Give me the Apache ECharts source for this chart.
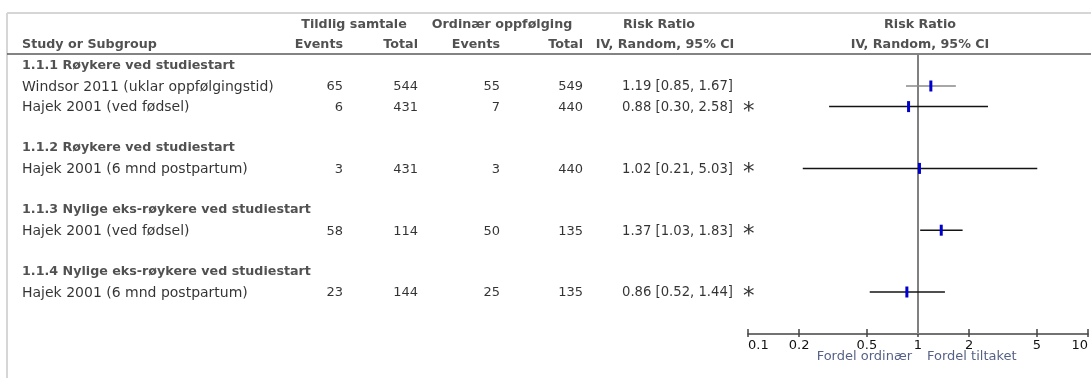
<!DOCTYPE html>
<html><head><meta charset="utf-8">
<script src="https://cdn.jsdelivr.net/npm/echarts@6.0.0/dist/echarts.min.js"></script>
<style>html,body{margin:0;padding:0;background:#fff}#c{width:1091px;height:378px}</style>
</head><body><div id="c"></div>
<script>
// ---------- data ----------
const groupTitles = ['1.1.1 Røykere ved studiestart', '1.1.2 Røykere ved studiestart', '1.1.3 Nylige eks-røykere ved studiestart', '1.1.4 Nylige eks-røykere ved studiestart'];
const studyNames = ['Windsor 2011 (uklar oppfølgingstid)', 'Hajek 2001 (ved fødsel)', 'Hajek 2001 (6 mnd postpartum)', 'Hajek 2001 (ved fødsel)', 'Hajek 2001 (6 mnd postpartum)'];
const studyGroup = [0, 0, 1, 2, 3];
const eventsT = [65, 6, 3, 58, 23];
const totalT = [544, 431, 431, 114, 144];
const eventsC = [55, 7, 3, 50, 25];
const totalC = [549, 440, 440, 135, 135];
const rr = [1.19, 0.88, 1.02, 1.37, 0.86];
const ciLow = [0.85, 0.30, 0.21, 1.03, 0.52];
const ciHigh = [1.67, 2.58, 5.03, 1.83, 1.44];
const flagged = [false, true, true, true, true];
const headerTop = ['Tildlig samtale', 'Ordinær oppfølging', 'Risk Ratio', 'Risk Ratio'];
const headerBottom = ['Study or Subgroup', 'Events', 'Total', 'Events', 'Total', 'IV, Random, 95% CI', 'IV, Random, 95% CI'];
const axisTicks = [0.1, 0.2, 0.5, 1, 2, 5, 10];
const favourLabels = ['Fordel ordinær', 'Fordel tiltaket'];

// ---------- layout ----------
const W = 1091, H = 378, ROW0 = 65.4, ROWH = 20.6;
const toRow = py => (py - ROW0) / ROWH;
const COL = { study: 22, evT: 343, totT: 418, evC: 500, totC: 583, ci: 622, star: 743,
  hdrT: 354, hdrC: 502, hdrRR: 659, hdrIV: 665, plot: 920, favL: 912, favR: 927 };
const PLOT = { left: 748, top: 54, width: 342, height: 280 };

const groupRow = [], studyRow = [];
let r = 0;
groupTitles.forEach((g, gi) => {
  if (gi > 0) r++;
  groupRow.push(r); r++;
  studyGroup.forEach((sg, si) => { if (sg === gi) { studyRow[si] = r; r++; } });
});

const FONT = 'DejaVu Sans';
function txt(items, o) {
  return {
    type: 'scatter', xAxisIndex: 0, yAxisIndex: 0, symbolSize: 0, silent: true, clip: false, z: 5,
    data: items.map(it => [it[0], it[1], String(it[2])]),
    label: {
      show: true, position: [0, 0], formatter: p => p.value[2],
      align: o.align || 'left', verticalAlign: 'middle',
      fontFamily: FONT, fontSize: o.size || 13, fontWeight: o.bold ? 'bold' : 'normal',
      color: o.color || '#000', offset: o.offset || [0, 0]
    }
  };
}
const fmt = v => v.toFixed(2);
const hTop = toRow(24.5), hBot = toRow(44.5);
const HC = '#262626';
const BS = 12.7;

const series = [
  txt([[COL.hdrT, hTop, headerTop[0]]], { align: 'center', bold: true, color: HC, size: BS }),
  txt([[COL.hdrC, hTop, headerTop[1]]], { align: 'center', bold: true, color: HC, size: BS }),
  txt([[COL.hdrRR, hTop, headerTop[2]], [COL.plot, hTop, headerTop[3]]], { align: 'center', bold: true, color: HC, size: BS }),
  txt([[COL.study, hBot, headerBottom[0]]], { align: 'left', bold: true, color: HC, size: BS }),
  txt([[COL.evT, hBot, headerBottom[1]], [COL.totT, hBot, headerBottom[2]], [COL.evC, hBot, headerBottom[3]], [COL.totC, hBot, headerBottom[4]]], { align: 'right', bold: true, color: HC, size: BS }),
  txt([[COL.hdrIV, hBot, headerBottom[5]], [COL.plot, hBot, headerBottom[6]]], { align: 'center', bold: true, color: HC, size: BS }),
  txt(groupTitles.map((g, i) => [COL.study, groupRow[i], g]), { align: 'left', bold: true, color: HC, size: BS }),
  txt(studyNames.map((s, i) => [COL.study, studyRow[i], s]), { align: 'left', offset: [0, 1], size: 14 }),
  txt(eventsT.map((v, i) => [COL.evT, studyRow[i], v]), { align: 'right', offset: [0, 1] }),
  txt(totalT.map((v, i) => [COL.totT, studyRow[i], v]), { align: 'right', offset: [0, 1] }),
  txt(eventsC.map((v, i) => [COL.evC, studyRow[i], v]), { align: 'right', offset: [0, 1] }),
  txt(totalC.map((v, i) => [COL.totC, studyRow[i], v]), { align: 'right', offset: [0, 1] }),
  txt(rr.map((v, i) => [COL.ci, studyRow[i], fmt(v) + ' [' + fmt(ciLow[i]) + ', ' + fmt(ciHigh[i]) + ']']), { align: 'left', offset: [0, 1], size: 13.2 }),
  txt(flagged.map((f, i) => f ? [COL.star, studyRow[i], '*'] : null).filter(Boolean), { align: 'left', size: 23, offset: [0, 5] }),
  txt([[COL.favL, toRow(357), favourLabels[0]]], { align: 'right', color: '#2b3868' }),
  txt([[COL.favR, toRow(357), favourLabels[1]]], { align: 'left', color: '#2b3868' }),
  {
    type: 'custom', xAxisIndex: 1, yAxisIndex: 1, clip: false, silent: true, z: 3,
    data: [[1, toRow(PLOT.top), toRow(PLOT.top + PLOT.height)]],
    encode: { x: 0, y: [1, 2] },
    renderItem: (params, api) => {
      const a = api.coord([api.value(0), api.value(1)]);
      const b = api.coord([api.value(0), api.value(2)]);
      return { type: 'line', shape: { x1: a[0], y1: a[1], x2: b[0], y2: b[1] }, style: { stroke: '#808080', lineWidth: 2 } };
    }
  },
  {
    type: 'custom', xAxisIndex: 1, yAxisIndex: 1, clip: false, silent: true, z: 4,
    data: rr.map((v, i) => [ciLow[i], ciHigh[i], v, studyRow[i], flagged[i] ? 1 : 0]),
    encode: { x: [0, 1, 2], y: 3 },
    renderItem: (params, api) => {
      const y = api.value(3);
      const p1 = api.coord([api.value(0), y]);
      const p2 = api.coord([api.value(1), y]);
      const pm = api.coord([api.value(2), y]);
      return {
        type: 'group', children: [
          { type: 'line', shape: { x1: p1[0], y1: p1[1], x2: p2[0], y2: p2[1] }, style: { stroke: api.value(4) ? '#141414' : '#8a8a8a', lineWidth: 1.5 } },
          { type: 'rect', shape: { x: pm[0] - 1.5, y: pm[1] - 5.5, width: 3, height: 11 }, style: { fill: '#0000cc' } }
        ]
      };
    }
  }
];

const tickLabelStyle = { fontFamily: FONT, fontSize: 13, color: '#111' };
const option = {
  animation: false,
  backgroundColor: '#ffffff',
  grid: [
    { left: 0, top: 0, width: W, height: H },
    { left: PLOT.left, top: PLOT.top, width: PLOT.width, height: PLOT.height }
  ],
  xAxis: [
    { type: 'value', gridIndex: 0, min: 0, max: W, show: false },
    {
      type: 'log', gridIndex: 1, logBase: 10, min: 0.1, max: 10, position: 'bottom',
      axisLine: { show: true, onZero: false, lineStyle: { color: '#444', width: 1.5 } },
      axisTick: { show: true, inside: true, length: 5, customValues: axisTicks, lineStyle: { color: '#444', width: 1.5 } },
      axisLabel: Object.assign({ show: true, customValues: axisTicks, margin: 5, alignMinLabel: 'left', alignMaxLabel: 'right',
        formatter: v => String(+Number(v).toPrecision(3)) }, tickLabelStyle),
      splitLine: { show: false }, minorTick: { show: false }
    },
    {
      type: 'log', gridIndex: 1, logBase: 10, min: 0.1, max: 10, position: 'bottom',
      axisLine: { show: false, onZero: false },
      axisTick: { show: true, inside: false, length: 3, customValues: axisTicks, lineStyle: { color: '#444', width: 1.5 } },
      axisLabel: { show: false }, splitLine: { show: false }, minorTick: { show: false }
    }
  ],
  yAxis: [
    { type: 'value', gridIndex: 0, inverse: true, min: toRow(0), max: toRow(H), show: false },
    { type: 'value', gridIndex: 1, inverse: true, min: toRow(PLOT.top), max: toRow(PLOT.top + PLOT.height), show: false }
  ],
  graphic: [
    { type: 'line', shape: { x1: 7, y1: 13, x2: W, y2: 13 }, style: { stroke: '#d6d6d6', lineWidth: 2 }, silent: true },
    { type: 'line', shape: { x1: 7, y1: 13, x2: 7, y2: H }, style: { stroke: '#d6d6d6', lineWidth: 2 }, silent: true },
    { type: 'line', shape: { x1: 7, y1: 54, x2: W, y2: 54 }, style: { stroke: '#5a5a5a', lineWidth: 1.5 }, silent: true }
  ],
  series: series
};
echarts.init(document.getElementById('c'), null, { renderer: 'canvas' }).setOption(option);
</script>
</body></html>
